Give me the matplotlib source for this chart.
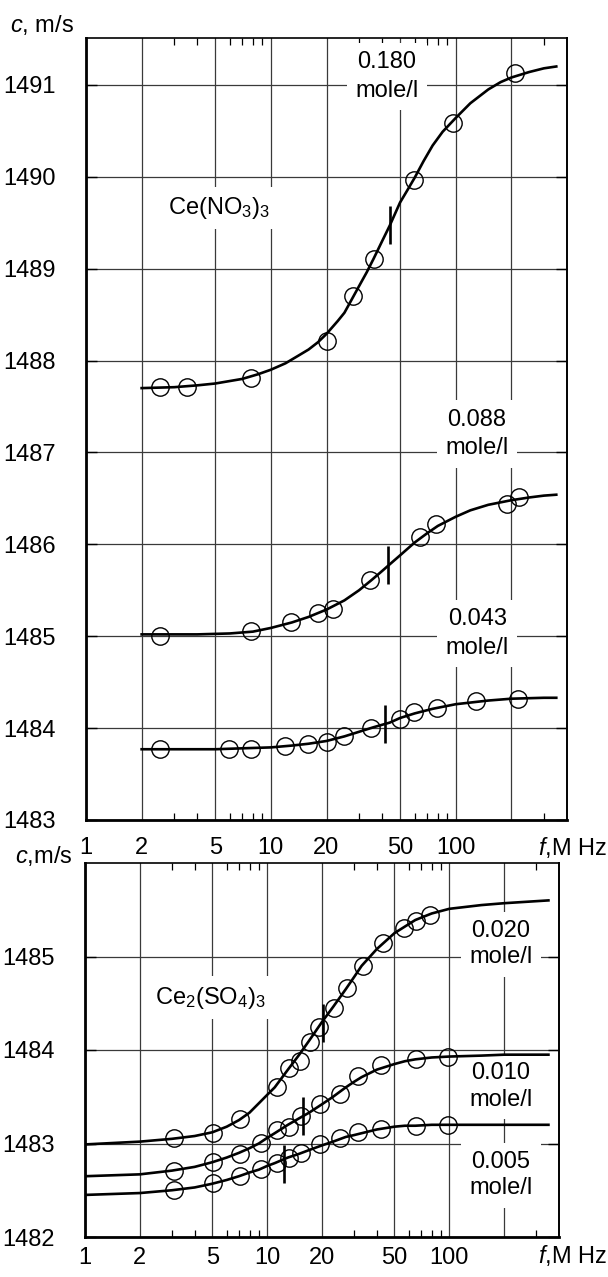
import numpy as np
import matplotlib
matplotlib.use('Agg')
import matplotlib.pyplot as plt
from matplotlib.ticker import FixedLocator, NullFormatter

plt.rcParams['font.family'] = ['Liberation Sans', 'DejaVu Sans']
plt.rcParams['mathtext.fontset'] = 'custom'
plt.rcParams['mathtext.rm'] = 'Liberation Sans'
plt.rcParams['mathtext.it'] = 'Liberation Sans:italic'
plt.rcParams['mathtext.default'] = 'regular'

# ---------------- data: Ce(NO3)3 (upper panel) ----------------
# fitted curves
f180_curve = [2, 3, 4, 5, 7, 8.5, 10, 12, 14, 16, 18, 20, 23, 25, 28, 30, 33, 36, 40, 44,
              50, 55, 60, 67, 75, 85, 100, 120, 150, 175, 200, 250, 300, 350]
c180_curve = [1487.70, 1487.71, 1487.73, 1487.75, 1487.80, 1487.85, 1487.90, 1487.97, 1488.05,
              1488.12, 1488.20, 1488.29, 1488.43, 1488.52, 1488.70, 1488.81, 1488.96, 1489.11,
              1489.30, 1489.47, 1489.72, 1489.86, 1489.99, 1490.17, 1490.34, 1490.49, 1490.64,
              1490.80, 1490.95, 1491.03, 1491.08, 1491.14, 1491.18, 1491.20]
f088_curve = [2, 4, 6, 8, 10, 13, 16, 20, 25, 30, 35, 40, 45, 50, 60, 70, 80, 100, 120, 150,
              200, 250, 300, 350]
c088_curve = [1485.02, 1485.02, 1485.03, 1485.05, 1485.09, 1485.15, 1485.21, 1485.29, 1485.39,
              1485.50, 1485.61, 1485.71, 1485.80, 1485.88, 1486.02, 1486.12, 1486.20, 1486.30,
              1486.37, 1486.43, 1486.48, 1486.51, 1486.53, 1486.54]
f043_curve = [2, 3, 5, 7, 10, 13, 16, 20, 25, 30, 36, 44, 50, 60, 75, 100, 150, 200, 300, 350]
c043_curve = [1483.77, 1483.77, 1483.77, 1483.78, 1483.79, 1483.81, 1483.83, 1483.86, 1483.91,
              1483.96, 1484.01, 1484.06, 1484.11, 1484.16, 1484.21, 1484.26, 1484.30, 1484.32,
              1484.33, 1484.33]

# measured points
f180 = [2.5, 3.5, 7.8, 20, 27.9, 36, 59.5, 96.7, 208]
c180 = [1487.71, 1487.71, 1487.81, 1488.21, 1488.70, 1489.11, 1489.97, 1490.59, 1491.13]
f088 = [2.5, 7.8, 12.8, 17.9, 21.7, 34.3, 63.9, 78.6, 189, 219]
c088 = [1485.00, 1485.06, 1485.15, 1485.25, 1485.30, 1485.61, 1486.08, 1486.22, 1486.44, 1486.51]
f043 = [2.5, 5.95, 7.8, 12.0, 15.9, 20, 24.9, 34.6, 49.8, 59.5, 79.6, 129, 217]
c043 = [1483.77, 1483.77, 1483.77, 1483.81, 1483.83, 1483.85, 1483.91, 1484.00, 1484.10,
        1484.17, 1484.22, 1484.29, 1484.32]

# relaxation frequency marks
relax_f_top = [44, 43, 41.3]
relax_c_top = [1489.47, 1485.77, 1484.05]

# ---------------- data: Ce2(SO4)3 (lower panel) ----------------
curve_f_bot = [1, 2, 3, 4, 5, 6, 7, 8, 9, 10, 11, 13, 15, 17, 20, 23, 27, 30, 33, 40, 50, 57,
               65, 80, 100, 150, 200, 350]
c020_curve = [1482.99, 1483.02, 1483.05, 1483.08, 1483.12, 1483.18, 1483.25, 1483.33, 1483.43,
              1483.52, 1483.60, 1483.79, 1483.95, 1484.10, 1484.30, 1484.46, 1484.65, 1484.78,
              1484.90, 1485.08, 1485.25, 1485.32, 1485.39, 1485.46, 1485.51, 1485.55, 1485.57,
              1485.60]
c010_curve = [1482.65, 1482.67, 1482.71, 1482.75, 1482.80, 1482.85, 1482.90, 1482.95, 1483.00,
              1483.06, 1483.11, 1483.20, 1483.27, 1483.33, 1483.42, 1483.50, 1483.60, 1483.66,
              1483.71, 1483.79, 1483.85, 1483.88, 1483.90, 1483.92, 1483.93, 1483.94, 1483.95,
              1483.95]
c005_curve = [1482.45, 1482.47, 1482.50, 1482.53, 1482.57, 1482.61, 1482.65, 1482.69, 1482.72,
              1482.76, 1482.79, 1482.85, 1482.89, 1482.93, 1482.98, 1483.02, 1483.07, 1483.09,
              1483.11, 1483.15, 1483.18, 1483.19, 1483.19, 1483.20, 1483.20, 1483.20, 1483.20,
              1483.20]

f020 = [3.07, 5.05, 7.05, 11.3, 13.1, 15.2, 17.2, 19.3, 23.3, 27.6, 33.4, 43, 56.7, 65.8, 77.9]
c020 = [1483.06, 1483.11, 1483.26, 1483.60, 1483.81, 1483.88, 1484.09, 1484.25, 1484.45,
        1484.66, 1484.90, 1485.14, 1485.30, 1485.38, 1485.44]
f010 = [3.07, 5.05, 7.05, 9.2, 11.3, 13.1, 15.3, 19.5, 25.2, 31.4, 42.2, 65.8, 98.4]
c010 = [1482.71, 1482.80, 1482.89, 1483.01, 1483.14, 1483.18, 1483.29, 1483.42, 1483.53,
        1483.72, 1483.84, 1483.90, 1483.92]
f005 = [3.07, 5.05, 7.05, 9.2, 11.3, 13.1, 15.3, 19.5, 25.2, 31.4, 42.2, 65.8, 98.4]
c005 = [1482.50, 1482.58, 1482.65, 1482.73, 1482.79, 1482.85, 1482.90, 1482.99, 1483.06,
        1483.12, 1483.15, 1483.19, 1483.20]

relax_f_bot = [20.3, 15.8, 12.3]
relax_c_bot = [1484.29, 1483.29, 1482.78]

# axis ticks
x_major = [1, 2, 5, 10, 20, 50, 100, 200]
x_labels = ['1', '2', '5', '10', '20', '50', '100', '']
x_minor = [3, 4, 6, 7, 8, 9, 30, 40, 60, 70, 80, 90, 300]
y_top = [1483, 1484, 1485, 1486, 1487, 1488, 1489, 1490, 1491]
y_bot = [1482, 1483, 1484, 1485]

FS = 17
W, H = 608, 1277

fig = plt.figure(figsize=(W / 100, H / 100), dpi=100)
ax1 = fig.add_axes([86 / W, 1 - 820 / H, (567 - 86) / W, (820 - 38) / H])
ax2 = fig.add_axes([85 / W, 1 - 1237 / H, (559 - 85) / W, (1237 - 863) / H])


def style_axes(ax, ylim, yticks, xpad):
    ax.set_xscale('log')
    ax.set_xlim(1, 400)
    ax.set_ylim(*ylim)
    ax.xaxis.set_major_locator(FixedLocator(x_major))
    ax.set_xticklabels(x_labels)
    ax.xaxis.set_minor_locator(FixedLocator(x_minor))
    ax.xaxis.set_minor_formatter(NullFormatter())
    ax.set_yticks(yticks)
    ax.set_yticklabels([str(v) for v in yticks])
    ax.set_axisbelow(True)
    ax.grid(True, which='major', color='#3a3a3a', lw=0.9)
    ax.tick_params(axis='x', which='major', direction='in', length=0, pad=xpad, labelsize=FS)
    ax.tick_params(axis='x', which='minor', direction='in', length=5, width=0.9,
                   top=True, bottom=True)
    ax.tick_params(axis='y', which='major', direction='in', length=8, width=1.0,
                   left=True, right=True, pad=22, labelsize=FS)
    ax.spines['left'].set_linewidth(2.0)
    ax.spines['bottom'].set_linewidth(2.0)
    ax.spines['top'].set_linewidth(1.2)
    ax.spines['right'].set_linewidth(1.4)
    ax.spines['right'].set_linestyle((0, (6, 1)))


style_axes(ax1, (1483, 1491.51), y_top, 12)
style_axes(ax2, (1482, 1486.0), y_bot, 7)

line_kw = dict(color='black', lw=1.9, zorder=3)
pt_kw = dict(ls='none', marker='o', ms=12.5, mfc='none', mec='black', mew=1.0, zorder=4)
rel_kw = dict(ls='none', marker='|', ms=27, mec='black', mew=1.9, zorder=5)
box = dict(facecolor='white', edgecolor='none', pad=6)

# upper panel
for ff, cc in ((f180_curve, c180_curve), (f088_curve, c088_curve), (f043_curve, c043_curve)):
    ax1.plot(ff, cc, **line_kw)
for ff, cc in ((f180, c180), (f088, c088), (f043, c043)):
    ax1.plot(ff, cc, **pt_kw)
ax1.plot(relax_f_top, relax_c_top, **rel_kw)

ax1.text(42.4, 1491.09, '0.180\nmole/l', fontsize=FS, ha='center', va='center',
         linespacing=1.4, bbox=box, zorder=2)
ax1.text(130, 1487.20, '0.088\nmole/l', fontsize=FS, ha='center', va='center',
         linespacing=1.4, bbox=box, zorder=2)
ax1.text(131, 1485.03, '0.043\nmole/l', fontsize=FS, ha='center', va='center',
         linespacing=1.4, bbox=box, zorder=2)
ax1.text(5.24, 1489.66, r'Ce(NO$_3$)$_3$', fontsize=FS, ha='center', va='center',
         bbox=box, zorder=2)

# lower panel
for cc in (c020_curve, c010_curve, c005_curve):
    ax2.plot(curve_f_bot, cc, **line_kw)
for ff, cc in ((f020, c020), (f010, c010), (f005, c005)):
    ax2.plot(ff, cc, **pt_kw)
ax2.plot(relax_f_bot, relax_c_bot, **rel_kw)

ax2.text(192, 1485.13, '0.020\nmole/l', fontsize=FS, ha='center', va='center',
         linespacing=1.25, bbox=box, zorder=2)
ax2.text(192, 1483.61, '0.010\nmole/l', fontsize=FS, ha='center', va='center',
         linespacing=1.25, bbox=box, zorder=2)
ax2.text(192, 1482.66, '0.005\nmole/l', fontsize=FS, ha='center', va='center',
         linespacing=1.25, bbox=box, zorder=2)
ax2.text(4.88, 1484.56, r'Ce$_2$(SO$_4$)$_3$', fontsize=FS, ha='center', va='center',
         bbox=box, zorder=2)

# axis captions
fig.text(10 / W, 1 - 25 / H, r'$\mathit{c}$, m/s', fontsize=FS, ha='left', va='center')
fig.text(607 / W, 1 - 847 / H, r'$\mathit{f}$,M Hz', fontsize=FS, ha='right', va='center')
fig.text(15 / W, 1 - 856 / H, r'$\mathit{c}$,m/s', fontsize=FS, ha='left', va='center')
fig.text(607 / W, 1 - 1256 / H, r'$\mathit{f}$,M Hz', fontsize=FS, ha='right', va='center')

fig.savefig('out.png', dpi=100, facecolor='white')
